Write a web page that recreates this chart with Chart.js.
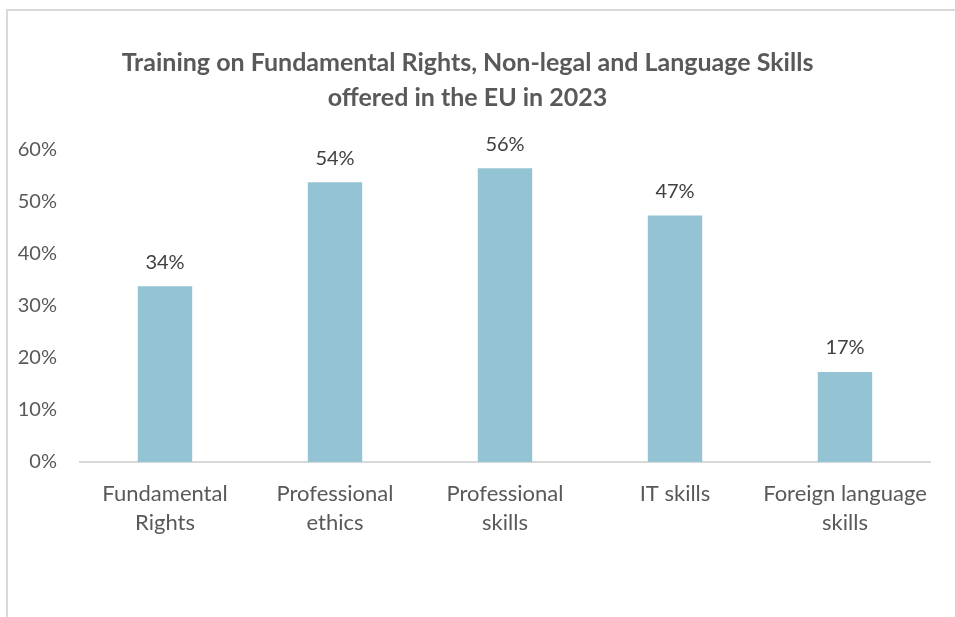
<!DOCTYPE html>
<html>
<head>
<meta charset="utf-8">
<script src="https://cdn.jsdelivr.net/npm/chart.js@4/dist/chart.umd.min.js"></script>
<style>
  html, body { margin: 0; padding: 0; background: #ffffff; overflow: hidden; }
  #frame { position: absolute; left: 6px; top: 9px; width: 2000px; height: 2000px;
           border-left: 2px solid #d9d9d9; border-top: 2px solid #d9d9d9; }
  #c { position: absolute; left: 0; top: 0; }
</style>
</head>
<body>
<div id="frame"></div>
<canvas id="c" width="955" height="617"></canvas>
<script>
const categories = [["Fundamental", "Rights"], ["Professional", "ethics"], ["Professional", "skills"], ["IT skills"], ["Foreign language", "skills"]];
const values = [33.8, 53.8, 56.5, 47.4, 17.3];
const valueLabels = ["34%", "54%", "56%", "47%", "17%"];
const yTicks = [0, 10, 20, 30, 40, 50, 60];
const titleLines = ["Training on Fundamental Rights, Non-legal and Language Skills", "offered in the EU in 2023"];

const FONT = "Lato, 'Open Sans', 'DejaVu Sans', sans-serif";

const barLabels = {
  id: 'barLabels',
  afterDatasetsDraw(chart) {
    const ctx = chart.ctx;
    const meta = chart.getDatasetMeta(0);
    ctx.save();
    ctx.font = "20px " + FONT;
    ctx.fillStyle = "#404040";
    ctx.textAlign = "center";
    ctx.textBaseline = "middle";
    meta.data.forEach((bar, i) => {
      ctx.fillText(valueLabels[i], bar.x, bar.y - 24);
    });
    ctx.restore();
  }
};

new Chart(document.getElementById('c'), {
  type: 'bar',
  data: {
    labels: categories,
    datasets: [{
      data: values,
      backgroundColor: '#94c3d4',
      borderWidth: 0,
      categoryPercentage: 1,
      barPercentage: 0.32
    }]
  },
  options: {
    responsive: false,
    animation: false,
    layout: { padding: { left: 5, right: 25, top: 0, bottom: 0 } },
    plugins: {
      legend: { display: false },
      tooltip: { enabled: false },
      title: {
        display: true,
        text: titleLines,
        color: '#595959',
        font: { family: FONT, size: 25, weight: 'bold', lineHeight: 1.4 },
        padding: { top: 45, bottom: 35 }
      }
    },
    scales: {
      x: {
        grid: { display: false, drawTicks: false },
        border: { display: true, color: '#d9d9d9', width: 2 },
        ticks: {
          color: '#595959',
          font: { family: FONT, size: 22, lineHeight: 1.32 },
          padding: 17,
          maxRotation: 0,
          autoSkip: false
        },
        afterFit(scale) { scale.height = 155; }
      },
      y: {
        min: 0,
        max: 60,
        afterBuildTicks(scale) { scale.ticks = yTicks.map(v => ({ value: v })); },
        grid: { display: false, drawTicks: false },
        border: { display: false },
        ticks: {
          color: '#595959',
          font: { family: FONT, size: 20 },
          padding: 23,
          callback: (v) => v + '%'
        },
        afterFit(scale) { scale.width = 75; }
      }
    }
  },
  plugins: [barLabels]
});
</script>
</body>
</html>
